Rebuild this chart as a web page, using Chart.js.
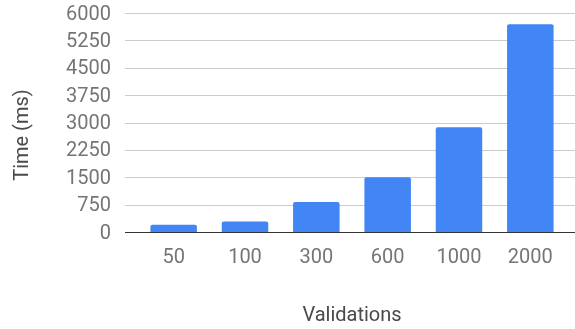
<!DOCTYPE html>
<html>
<head>
<meta charset="utf-8">
<script src="https://cdn.jsdelivr.net/npm/chart.js@4/dist/chart.umd.min.js"></script>
<style>
  html, body { margin: 0; padding: 0; background: #ffffff; }
  canvas { display: block; }
</style>
</head>
<body>
<canvas id="chart" width="575" height="329"></canvas>
<script>
// Run time per number of validations
const validations = ['50', '100', '300', '600', '1000', '2000'];
const timeMs = [200, 290, 820, 1500, 2870, 5690];
const yMin = 0;
const yMax = 6000;
const yStep = 750;

const xTitle = 'Validations';
const yTitle = 'Time (ms)';

const FONT = 'Roboto, "Noto Sans", sans-serif';
const TICK_COLOR = '#757575';
const TITLE_COLOR = '#4a4a4a';

// Horizontal grid lines spanning the full plot width, with a dark baseline at zero
const wideGrid = {
  id: 'wideGrid',
  beforeDatasetsDraw(chart) {
    const { ctx } = chart;
    const y = chart.scales.y;
    const x0 = 125, x1 = 575;
    ctx.save();
    y.ticks.forEach(t => {
      const py = Math.round(y.getPixelForValue(t.value)) + 0.5;
      ctx.beginPath();
      ctx.moveTo(x0, py);
      ctx.lineTo(x1, py);
      ctx.lineWidth = 1;
      ctx.strokeStyle = t.value === 0 ? '#333333' : '#cccccc';
      ctx.stroke();
    });
    ctx.restore();
  },
  afterDatasetsDraw(chart) {
    // keep the zero baseline on top of the bars
    const { ctx } = chart;
    const y = chart.scales.y;
    const py = Math.round(y.getPixelForValue(0)) + 0.5;
    ctx.save();
    ctx.beginPath();
    ctx.moveTo(125, py);
    ctx.lineTo(575, py);
    ctx.lineWidth = 1;
    ctx.strokeStyle = '#333333';
    ctx.stroke();
    ctx.restore();
  }
};

// Rotated y-axis title
const yAxisTitle = {
  id: 'yAxisTitle',
  afterDraw(chart) {
    const { ctx } = chart;
    ctx.save();
    ctx.translate(23, 135);
    ctx.rotate(-Math.PI / 2);
    ctx.font = '20px ' + FONT;
    ctx.fillStyle = TITLE_COLOR;
    ctx.textAlign = 'center';
    ctx.textBaseline = 'middle';
    ctx.fillText(yTitle, 0, 0);
    ctx.restore();
  }
};

new Chart(document.getElementById('chart'), {
  type: 'bar',
  data: {
    labels: validations,
    datasets: [{
      data: timeMs,
      backgroundColor: '#4285f4',
      borderWidth: 0,
      borderRadius: { topLeft: 2, topRight: 2, bottomLeft: 0, bottomRight: 0 },
      borderSkipped: false,
      categoryPercentage: 1,
      barPercentage: 0.652
    }]
  },
  options: {
    responsive: false,
    animation: false,
    devicePixelRatio: 1,
    layout: { padding: { top: 13, right: 9, bottom: 0, left: 0 } },
    plugins: {
      legend: { display: false },
      tooltip: { enabled: false },
      title: { display: false }
    },
    scales: {
      x: {
        offset: true,
        grid: { display: false, drawTicks: false },
        border: { display: false },
        ticks: {
          color: TICK_COLOR,
          font: { family: FONT, size: 20 },
          padding: 14,
          maxRotation: 0,
          autoSkip: false
        },
        title: {
          display: true,
          text: xTitle,
          color: TITLE_COLOR,
          font: { family: FONT, size: 20 },
          padding: { top: 35, bottom: 1 }
        },
        afterFit(scale) {
          scale.height = 97;
          scale.paddingLeft = 0;
          scale.paddingRight = 0;
        }
      },
      y: {
        min: yMin,
        max: yMax,
        grid: { display: false, drawTicks: false },
        border: { display: false },
        ticks: {
          stepSize: yStep,
          autoSkip: false,
          color: TICK_COLOR,
          font: { family: FONT, size: 20 },
          padding: 27,
          labelOffset: 1.5,
          callback: v => String(v)
        },
        afterFit(scale) {
          scale.width = 138;
          scale.paddingTop = 0;
          scale.paddingBottom = 0;
        }
      }
    }
  },
  plugins: [wideGrid, yAxisTitle]
});
</script>
</body>
</html>
